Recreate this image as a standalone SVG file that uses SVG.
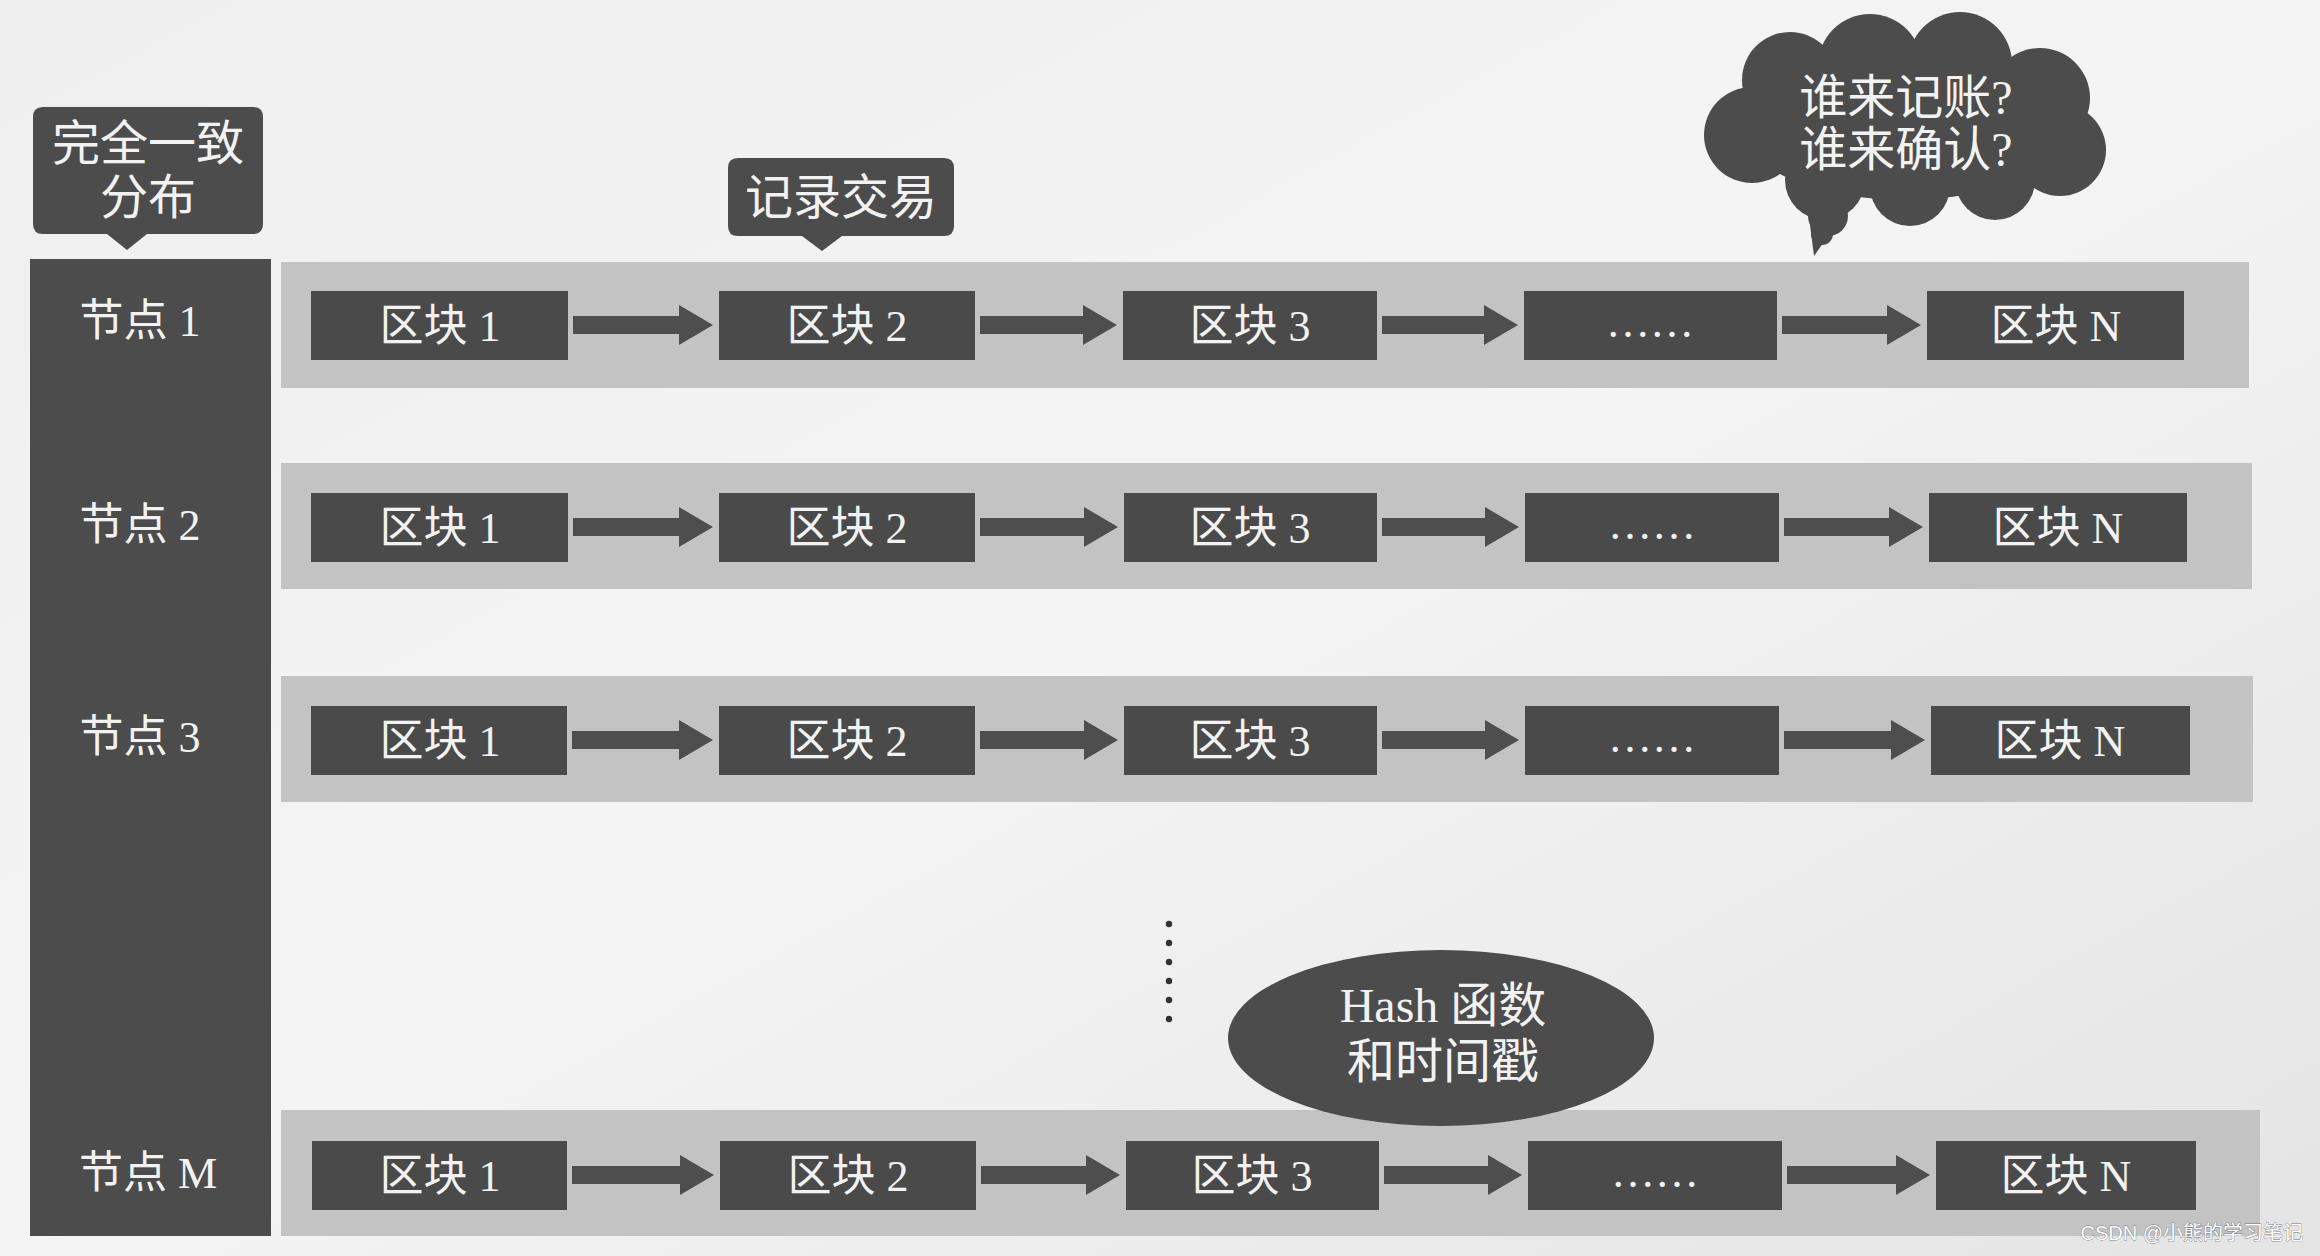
<svg xmlns="http://www.w3.org/2000/svg" width="2320" height="1256" viewBox="0 0 2320 1256">
<defs>
<linearGradient id="bg" x1="0" y1="0" x2="1" y2="1">
<stop offset="0" stop-color="#efefef"/><stop offset="0.5" stop-color="#f4f4f4"/><stop offset="1" stop-color="#e4e4e4"/>
</linearGradient>
<marker id="ah" markerUnits="userSpaceOnUse" markerWidth="34" markerHeight="40" viewBox="0 0 34 40" refX="2" refY="20" orient="auto">
<path d="M0,0 L34,20 L0,40 z" fill="#4e4e4e"/>
</marker>
</defs>
<style>
.t{font-family:"Liberation Serif","Noto Sans CJK SC",serif;fill:#f2f2f2;text-anchor:middle}
.b{font-size:44px}
.c{font-size:48px}
.band{fill:#c3c3c3}
.blk{fill:#4a4a4a}
.dark{fill:#4c4c4c}
.ar{stroke:#4e4e4e;stroke-width:18;fill:none;marker-end:url(#ah)}
</style>
<rect x="0" y="0" width="2320" height="1256" fill="url(#bg)"/>

<g id="bands">
<rect class="band" x="281" y="262" width="1968" height="126"/>
<rect class="band" x="281" y="463" width="1971" height="126"/>
<rect class="band" x="281" y="676" width="1972" height="126"/>
<rect class="band" x="281" y="1110" width="1979" height="126"/>
</g>

<g id="nodes-column">
<rect class="dark" x="30" y="259" width="241" height="977"/>
<text class="t b" x="140" y="336">节点 1</text>
<text class="t b" x="140" y="540">节点 2</text>
<text class="t b" x="140" y="752">节点 3</text>
<text class="t b" x="148" y="1188">节点 M</text>
</g>

<g id="callout-consistent">
<path class="dark" d="M43,107 H253 Q263,107 263,117 V224 Q263,234 253,234 H147 L127,250 L107,234 H43 Q33,234 33,224 V117 Q33,107 43,107 z"/>
<text class="t c" x="148" y="160">完全一致</text>
<text class="t c" x="148" y="214">分布</text>
</g>

<g id="callout-record">
<path class="dark" d="M738,158 H944 Q954,158 954,168 V226 Q954,236 944,236 H842 L822,251 L802,236 H738 Q728,236 728,226 V168 Q728,158 738,158 z"/>
<text class="t c" x="841" y="214">记录交易</text>
</g>

<g id="cloud">
<g class="dark">
<ellipse cx="1905" cy="125" rx="165" ry="75"/>
<circle cx="1790" cy="80" r="48"/>
<circle cx="1870" cy="66" r="52"/>
<circle cx="1960" cy="64" r="52"/>
<circle cx="2040" cy="98" r="50"/>
<circle cx="2060" cy="150" r="46"/>
<circle cx="1995" cy="180" r="40"/>
<circle cx="1910" cy="186" r="40"/>
<circle cx="1825" cy="180" r="40"/>
<circle cx="1752" cy="135" r="48"/>
<circle cx="1828" cy="216" r="20"/>
<circle cx="1822" cy="234" r="11"/>
<path d="M1810,225 L1814,256 L1838,222 z"/>
</g>
<text class="t c" x="1906" y="114">谁来记账?</text>
<text class="t c" x="1906" y="166">谁来确认?</text>
</g>

<g id="hash">
<ellipse class="dark" cx="1441" cy="1038" rx="213" ry="88"/>
<text class="t c" x="1443" y="1022">Hash 函数</text>
<text class="t c" x="1443" y="1078">和时间戳</text>
</g>

<g id="vdots" fill="#333">
<circle cx="1169" cy="924" r="3.2"/>
<circle cx="1169" cy="943" r="3.2"/>
<circle cx="1169" cy="962" r="3.2"/>
<circle cx="1169" cy="981" r="3.2"/>
<circle cx="1169" cy="1000" r="3.2"/>
<circle cx="1169" cy="1019" r="3.2"/>
</g>

<g id="row1">
<g id="n1b1"><rect class="blk" x="311" y="291" width="257" height="69"/><text class="t b" x="440" y="341">区块 1</text></g>
<g id="n1b2"><rect class="blk" x="719" y="291" width="256" height="69"/><text class="t b" x="847" y="341">区块 2</text></g>
<g id="n1b3"><rect class="blk" x="1123" y="291" width="254" height="69"/><text class="t b" x="1250" y="341">区块 3</text></g>
<g id="n1b4"><rect class="blk" x="1524" y="291" width="253" height="69"/><text class="t b" x="1650" y="337">……</text></g>
<g id="n1bN"><rect class="blk" x="1927" y="291" width="257" height="69"/><text class="t b" x="2056" y="341">区块 N</text></g>
</g>

<g id="row2">
<g id="n2b1"><rect class="blk" x="311" y="493" width="257" height="69"/><text class="t b" x="440" y="543">区块 1</text></g>
<g id="n2b2"><rect class="blk" x="719" y="493" width="256" height="69"/><text class="t b" x="847" y="543">区块 2</text></g>
<g id="n2b3"><rect class="blk" x="1124" y="493" width="253" height="69"/><text class="t b" x="1250" y="543">区块 3</text></g>
<g id="n2b4"><rect class="blk" x="1525" y="493" width="254" height="69"/><text class="t b" x="1652" y="539">……</text></g>
<g id="n2bN"><rect class="blk" x="1929" y="493" width="258" height="69"/><text class="t b" x="2058" y="543">区块 N</text></g>
</g>

<g id="row3">
<g id="n3b1"><rect class="blk" x="311" y="706" width="256" height="69"/><text class="t b" x="440" y="756">区块 1</text></g>
<g id="n3b2"><rect class="blk" x="719" y="706" width="256" height="69"/><text class="t b" x="847" y="756">区块 2</text></g>
<g id="n3b3"><rect class="blk" x="1124" y="706" width="253" height="69"/><text class="t b" x="1250" y="756">区块 3</text></g>
<g id="n3b4"><rect class="blk" x="1525" y="706" width="254" height="69"/><text class="t b" x="1652" y="752">……</text></g>
<g id="n3bN"><rect class="blk" x="1931" y="706" width="259" height="69"/><text class="t b" x="2060" y="756">区块 N</text></g>
</g>

<g id="rowM">
<g id="nMb1"><rect class="blk" x="312" y="1141" width="255" height="69"/><text class="t b" x="440" y="1191">区块 1</text></g>
<g id="nMb2"><rect class="blk" x="720" y="1141" width="256" height="69"/><text class="t b" x="848" y="1191">区块 2</text></g>
<g id="nMb3"><rect class="blk" x="1126" y="1141" width="253" height="69"/><text class="t b" x="1252" y="1191">区块 3</text></g>
<g id="nMb4"><rect class="blk" x="1528" y="1141" width="254" height="69"/><text class="t b" x="1655" y="1187">……</text></g>
<g id="nMbN"><rect class="blk" x="1936" y="1141" width="260" height="69"/><text class="t b" x="2066" y="1191">区块 N</text></g>
</g>

<g id="connectors">
<line class="ar" x1="573" y1="325" x2="681" y2="325"/>
<line class="ar" x1="980" y1="325" x2="1085" y2="325"/>
<line class="ar" x1="1382" y1="325" x2="1486" y2="325"/>
<line class="ar" x1="1782" y1="325" x2="1889" y2="325"/>

<line class="ar" x1="573" y1="527" x2="681" y2="527"/>
<line class="ar" x1="980" y1="527" x2="1086" y2="527"/>
<line class="ar" x1="1382" y1="527" x2="1487" y2="527"/>
<line class="ar" x1="1784" y1="527" x2="1891" y2="527"/>

<line class="ar" x1="572" y1="740" x2="681" y2="740"/>
<line class="ar" x1="980" y1="740" x2="1086" y2="740"/>
<line class="ar" x1="1382" y1="740" x2="1487" y2="740"/>
<line class="ar" x1="1784" y1="740" x2="1893" y2="740"/>

<line class="ar" x1="572" y1="1175" x2="682" y2="1175"/>
<line class="ar" x1="981" y1="1175" x2="1088" y2="1175"/>
<line class="ar" x1="1384" y1="1175" x2="1490" y2="1175"/>
<line class="ar" x1="1787" y1="1175" x2="1898" y2="1175"/>
</g>

<text x="2303" y="1240" text-anchor="end" font-family="Liberation Sans,Noto Sans CJK SC,sans-serif" font-size="20" fill="#ffffff" stroke="#777777" stroke-width="0.8" paint-order="stroke">CSDN @小熊的学习笔记</text>
</svg>
